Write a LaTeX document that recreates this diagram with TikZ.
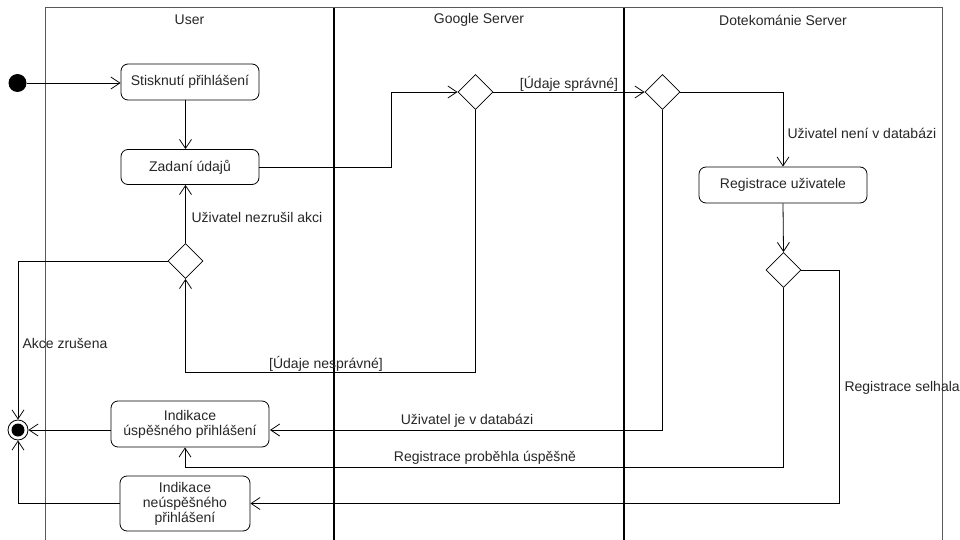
\documentclass[tikz,border=0pt]{standalone}
\usepackage{fontspec}
\setmainfont{Liberation Sans}
\usetikzlibrary{arrows.meta,shapes.geometric,calc}
\begin{document}
\begin{tikzpicture}[x=1pt,y=-1pt,
  every node/.style={font=\fontsize{14}{15}\selectfont, text=black!85},
  act/.style={draw, rounded corners=7pt, align=center, inner sep=2pt, line width=0.8pt},
  dec/.style={draw, diamond, minimum width=35pt, minimum height=35pt, inner sep=0pt, line width=0.8pt},
  flow/.style={draw, line width=0.8pt, -{Straight Barb[length=9pt,width=12pt]}},
  lanesep/.style={line width=1.3pt},
  laneframe/.style={line width=1pt, draw=black!65}]
\useasboundingbox (0,0) rectangle (960,540);
% swimlanes
\draw[laneframe] (45,540) -- (45,8) -- (942,8) -- (942,540);
\draw[lanesep] (334,8) -- (334,540);
\draw[lanesep] (624,8) -- (624,540);
\node (tU) at (189.5,20) {User};
\node (tG) at (479,20) {Google Server};
\node (tD) at (783,20) {Dotekománie Server};
% nodes
\node[circle, fill=black, minimum size=18pt, inner sep=0pt] (init) at (17.5,83) {};
\node[act, minimum width=138pt, minimum height=36pt] (stisk) at (190,82) {Stisknutí přihlášení};
\node[act, minimum width=138pt, minimum height=35pt] (zad) at (190,167) {Zadaní údajů};
\node[dec] (ud) at (185.5,261) {};
\node[dec] (gd) at (475.5,92) {};
\node[dec] (dd) at (662.5,92) {};
\node[act, minimum width=168pt, minimum height=36pt] (reg) at (783,185) {Registrace uživatele};
\node[dec] (rd) at (783.5,270) {};
\node[act, minimum width=158pt, minimum height=46pt] (usp) at (190,424) {Indikace\\úspěšného přihlášení};
\node[act, minimum width=130pt, minimum height=55pt] (neusp) at (185,503.5) {Indikace\\neúspěšného\\přihlášení};
\node[circle, draw, line width=0.8pt, minimum size=20pt, inner sep=0pt] (fin) at (18,430) {};
\fill (fin) circle (6.5pt);
% helper coordinates
\coordinate (k1) at (391,167);
\coordinate (k2) at (185.5,372);
\coordinate (k3) at (839.5,388);
\coordinate (k4) at (185,467);
\coordinate (k5) at (270,430);
% connectors
\draw[flow] (init) -- (stisk.west |- init);
\draw[flow] (stisk.south -| ud) -- (zad.north -| ud);
\draw[flow] (zad.east) -- (k1) |- (gd.west);
\draw[flow] (gd.east) -- (dd.west);
\draw[flow] (gd.south) |- (k2) -- (ud.south);
\draw[flow] (ud.north) -- (ud |- zad.south);
\draw[flow] (ud.west) -| (fin.north);
\draw[flow] (dd.east) -| (reg.north);
\draw[flow] (reg.south) -- (rd.north);
\draw[flow] (rd.east) -| (k3) |- (neusp.east);
\draw[flow] (rd.south) |- (k4) -- (k4 |- usp.south);
\draw[flow] (dd.south) |- (k5);
\draw[flow] (usp.west |- fin) -- (fin.east);
\draw[flow] (neusp.west) -| (fin.south);
% labels
\node[anchor=west] (l1) at (188,217) {Uživatel nezrušil akci};
\node[anchor=west] (l2) at (19,343) {Akce zrušena};
\node (l3) at (569,84) {[Údaje správné]};
\node[anchor=west] (l4) at (784,133) {Uživatel není v databázi};
\node (l5) at (326,364) {[Údaje nesprávné]};
\node (l6) at (467,421) {Uživatel je v databázi};
\node (l7) at (485,458) {Registrace proběhla úspěšně};
\node[anchor=west] (l8) at (841,388) {Registrace selhala};
\end{tikzpicture}
\end{document}
